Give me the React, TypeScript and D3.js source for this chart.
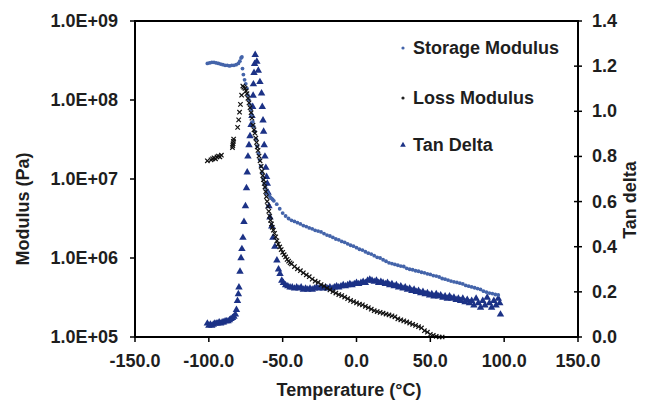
import React from "react";
import * as d3 from "d3";

// Dynamic mechanical analysis: temperature sweep
const tempTicks = [-150, -100, -50, 0, 50, 100, 150];
const modulusTicks = [1e5, 1e6, 1e7, 1e8, 1e9];
const modulusTickLabels = ["1.0E+05", "1.0E+06", "1.0E+07", "1.0E+08", "1.0E+09"];
const tanTicks = [0, 0.2, 0.4, 0.6, 0.8, 1.0, 1.2, 1.4];

// Storage modulus (Pa)
const storageTemp = [
  -101, -99.5, -98, -96.5, -95, -93.5, -92, -90.5, -89, -87.5, -86, -84.5, -83, -81.5, -80, -79, -78.2, -77.6,
  -77.2, -76.6, -75.8, -75, -74.2, -73.5, -72.8, -72.1, -71.4, -70.8, -70.2, -69.5, -68.8, -68, -67.2, -66.4,
  -65.6, -64.8, -64, -63.2, -62.4, -61.6, -60.8, -60, -59.2, -58.4, -57.6, -56.8,
  -56, -54, -52, -50, -48, -46, -44, -42, -40, -38, -36, -34, -32, -30, -28, -26, -24, -22, -20, -18, -16, -14,
  -12, -10, -8, -6, -4, -2, 0, 2, 4, 6, 8, 10, 12, 14, 16, 18, 20, 22, 24, 26, 28, 30, 32, 34, 36, 38, 40, 42,
  44, 46, 48, 50, 52, 54, 56, 58, 60, 62, 64, 66, 68, 70, 72, 74, 76, 78, 80, 82, 84, 86, 88, 90, 92, 94, 96,
];
const storage = [
  2.9e8, 2.95e8, 3.0e8, 3.0e8, 2.95e8, 2.9e8, 2.85e8, 2.8e8, 2.75e8, 2.75e8, 2.7e8, 2.75e8, 2.75e8, 2.8e8, 2.9e8,
  3.1e8, 3.4e8, 3.5e8,
  2.5e8, 2.1e8, 1.8e8, 1.6e8, 1.4e8, 1.15e8, 1.0e8, 8.8e7, 7.5e7, 6.4e7, 5.3e7, 4.6e7, 4.0e7, 3.2e7, 2.6e7, 2.1e7,
  1.75e7, 1.45e7, 1.2e7, 1.0e7, 8.8e6, 7.8e6, 7.1e6, 6.6e6, 6.2e6, 5.9e6, 5.7e6, 5.5e6,
  5.3e6, 4.8e6, 4.2e6, 3.7e6, 3.4e6, 3.16e6, 3.0e6, 2.9e6, 2.8e6, 2.7e6, 2.57e6, 2.5e6, 2.4e6, 2.34e6, 2.24e6,
  2.19e6, 2.14e6, 2.04e6, 1.95e6, 1.9e6, 1.82e6, 1.74e6, 1.7e6, 1.62e6, 1.58e6, 1.51e6, 1.45e6, 1.41e6, 1.35e6,
  1.29e6, 1.26e6, 1.2e6, 1.15e6, 1.12e6, 1.07e6, 1.02e6, 1.0e6, 9.5e5, 9.1e5, 8.7e5, 8.5e5, 8.3e5, 8.1e5, 7.9e5,
  7.8e5, 7.4e5, 7.2e5, 7.1e5, 6.9e5, 6.8e5, 6.6e5, 6.5e5, 6.3e5, 6.2e5, 6.0e5, 5.9e5, 5.75e5, 5.5e5, 5.4e5,
  5.25e5, 5.1e5, 5.0e5, 4.9e5, 4.8e5, 4.7e5, 4.5e5, 4.4e5, 4.3e5, 4.2e5, 4.1e5, 4.0e5, 3.8e5, 3.7e5, 3.6e5,
  3.55e5, 3.45e5, 3.4e5,
];

// Loss modulus (Pa)
const lossTemp = [
  -101, -98.5, -97.5, -96.5, -95.5, -94.5, -93.5, -92.5, -91.5, -84, -83.8, -83.6, -83.4, -83.2, -80.5, -79.8,
  -79.2, -78.6, -77.8, -77, -76.3, -75.5, -74.8, -74.2, -73.5, -72.8, -72.1, -71.4, -70.8, -70.1, -69.4, -68.8,
  -68.2, -67.7, -67.2, -66.7, -66, -65.3, -64.6, -64, -63.5, -63, -62.5, -62, -61.5, -61, -60.5, -60, -59.4, -58.8,
  -58.2, -57.6, -57, -56.3, -55.5, -54.7, -53.9, -53, -52, -51, -50, -49, -48, -47, -46, -45, -44,
  -42, -40, -38, -36, -34, -32, -30, -28, -26, -24, -22, -20, -18, -16, -14, -12, -10, -8, -6, -4, -2, 0, 2, 4, 6,
  8, 10, 12, 14, 16, 18, 20, 22, 24, 26, 28, 30, 32, 34, 36, 38, 40, 42, 44, 46, 48, 50, 52, 54, 56, 58,
];
const loss = [
  1.7e7, 1.75e7, 1.8e7, 1.85e7, 1.8e7, 1.9e7, 1.95e7, 1.9e7, 2.0e7, 2.5e7, 2.65e7, 2.8e7, 3.0e7, 3.2e7, 4.5e7,
  5.6e7, 7.0e7, 8.8e7, 1.15e8, 1.5e8, 1.45e8, 1.4e8, 1.3e8, 1.2e8, 1.05e8, 9.2e7, 8.0e7, 6.9e7, 5.9e7, 4.8e7, 4.2e7,
  3.8e7, 3.3e7, 2.9e7, 2.55e7, 2.3e7, 1.95e7, 1.7e7, 1.45e7, 1.25e7, 1.1e7, 9.8e6, 8.8e6, 7.9e6, 6.9e6, 6.0e6,
  5.2e6, 4.5e6, 3.9e6, 3.4e6, 3.0e6, 2.7e6, 2.45e6, 2.25e6, 2.05e6, 1.85e6, 1.65e6, 1.5e6, 1.38e6, 1.28e6,
  1.18e6, 1.1e6, 1.03e6, 9.6e5, 9.1e5, 8.7e5, 8.4e5,
  7.8e5, 7.3e5, 6.9e5, 6.5e5, 6.1e5, 5.8e5, 5.4e5, 5.1e5, 4.9e5, 4.6e5, 4.4e5, 4.15e5, 3.95e5, 3.75e5, 3.6e5,
  3.45e5, 3.35e5, 3.2e5, 3.05e5, 2.9e5, 2.8e5, 2.7e5, 2.6e5, 2.55e5, 2.45e5, 2.35e5, 2.25e5, 2.15e5, 2.1e5,
  2.05e5, 2.0e5, 1.95e5, 1.9e5, 1.85e5, 1.8e5, 1.7e5, 1.65e5, 1.6e5, 1.55e5, 1.5e5, 1.45e5, 1.4e5, 1.35e5,
  1.3e5, 1.2e5, 1.15e5, 1.08e5, 1.05e5, 1.02e5, 1.0e5, 1.0e5,
];

// Tan delta (right axis)
const tanTemp = [
  -101, -100, -99, -98, -97, -96, -95, -94, -93, -92, -91, -90, -89, -88, -87, -86, -85, -84, -83, -82, -81.3,
  -80.6, -80, -79.6, -78.9, -78.2, -77.6, -76.9, -76.2, -75.2, -74.5, -74, -73.5, -72.8, -72.1, -71.4, -70.8,
  -70.3, -70, -69.8, -69.4, -69, -68.6, -67.5, -66.5, -65.4, -64.3, -63.8, -63.3, -62.9, -62.5, -62, -61.4,
  -60.9, -60.4, -59.9, -59.3, -58.6, -57.4, -56.6, -55.3, -53.9, -52.8, -51.8, -50.6, -49.5, -48, -46.5, -45,
  -43.5, -42, -40.5, -39, -37.5, -36, -34.5, -33, -31.5, -30, -28.5, -27, -25.5, -24, -22.5, -21, -19.5, -18,
  -16.5, -15, -13.5, -12, -10.5, -9, -7.5, -6, -4.5, -3, -1.5, 0, 1.5, 3, 4.5, 6, 7.5, 9, 10.5, 12, 13.5, 15,
  16.5, 18, 19.5, 21, 22.5, 24, 25.5, 27, 28.5, 30, 31.5, 33, 34.5, 36, 37.5, 39, 40.5, 42, 43.5, 45, 46.5, 48,
  49.5, 51, 52.5, 54, 55.5, 57, 58.5, 60, 61.5, 63, 64.5, 66, 67.5, 69, 70.5, 72, 73.5, 75, 76.5, 78, 79.5, 81,
  82.5, 84, 85.5, 87, 88.5, 90, 91.5, 93, 94.5, 96, 97, 97.5,
];
const tanDelta = [
  0.06, 0.05, 0.055, 0.05, 0.055, 0.06, 0.06, 0.06, 0.065, 0.06, 0.065, 0.065, 0.07, 0.07, 0.07, 0.075, 0.08,
  0.085, 0.09, 0.1, 0.12, 0.16, 0.19, 0.22, 0.29, 0.35, 0.39, 0.44, 0.51, 0.58, 0.66, 0.73, 0.8, 0.85, 0.89,
  0.94, 0.98, 1.02, 1.07, 1.12, 1.17, 1.21, 1.25, 1.22, 1.18, 1.13, 1.08, 1.02, 0.96, 0.91, 0.85, 0.8, 0.75,
  0.71, 0.68, 0.64, 0.58, 0.53, 0.49, 0.44, 0.4, 0.34, 0.3, 0.28, 0.25, 0.24, 0.23, 0.225, 0.22,
  0.22, 0.215, 0.22, 0.215, 0.22, 0.21, 0.215, 0.21, 0.215, 0.21, 0.215, 0.22, 0.215, 0.22, 0.215, 0.22, 0.215,
  0.22, 0.215, 0.22, 0.225, 0.22, 0.225, 0.23, 0.225, 0.23, 0.235, 0.23, 0.235, 0.24, 0.235, 0.24, 0.245, 0.24,
  0.25, 0.255, 0.25, 0.245, 0.25, 0.24, 0.245, 0.24, 0.235, 0.24, 0.23, 0.235, 0.225, 0.23, 0.22, 0.225, 0.215,
  0.22, 0.21, 0.215, 0.205, 0.21, 0.2, 0.205, 0.195, 0.2, 0.19, 0.195, 0.185, 0.19, 0.18, 0.19, 0.18, 0.185,
  0.175, 0.18, 0.17, 0.18, 0.17, 0.175, 0.165, 0.17, 0.16, 0.17, 0.155, 0.165, 0.15, 0.16, 0.14, 0.17, 0.15,
  0.13, 0.16, 0.14, 0.175, 0.15, 0.13, 0.16, 0.14, 0.17, 0.15, 0.1,
];

const W = 646;
const H = 402;
const plot = { left: 135, right: 578, top: 21, bottom: 337 };
const FONT = "'Liberation Sans', Arial, sans-serif";
const STORAGE_COLOR = "#4464aa";
const TAN_COLOR = "#1c3286";
const TEXT_COLOR = "#1e1e1e";

export default function App() {
  const x = d3.scaleLinear().domain([-150, 150]).range([plot.left, plot.right]);
  const yMod = d3.scaleLog().domain([1e5, 1e9]).range([plot.bottom, plot.top]);
  const yTan = d3.scaleLinear().domain([0, 1.4]).range([plot.bottom, plot.top]);
  const tri = d3.symbol().type(d3.symbolTriangle).size(24)() as string;
  const triLegend = d3.symbol().type(d3.symbolTriangle).size(14)() as string;
  const xs = 2.2;

  const labelStyle = { fontFamily: FONT, fontWeight: 700, fontSize: 18, fill: TEXT_COLOR } as const;

  return (
    <svg width={W} height={H} style={{ position: "absolute", left: 0, top: 0, background: "#fff" }}>
      {/* tan delta */}
      <g fill={TAN_COLOR}>
        {tanTemp.map((t, i) => (
          <path key={i} d={tri} transform={`translate(${x(t)},${yTan(tanDelta[i])})`} />
        ))}
      </g>
      {/* storage modulus */}
      <g fill={STORAGE_COLOR}>
        {storageTemp.map((t, i) => (
          <circle key={i} cx={x(t)} cy={yMod(storage[i])} r={1.9} />
        ))}
      </g>
      {/* loss modulus */}
      <g stroke="#111" strokeWidth={1.2}>
        {lossTemp.map((t, i) => {
          const cx = x(t);
          const cy = yMod(loss[i]);
          return (
            <g key={i}>
              <line x1={cx - xs} y1={cy - xs} x2={cx + xs} y2={cy + xs} />
              <line x1={cx - xs} y1={cy + xs} x2={cx + xs} y2={cy - xs} />
            </g>
          );
        })}
      </g>

      {/* frame */}
      <rect
        x={plot.left}
        y={plot.top}
        width={plot.right - plot.left}
        height={plot.bottom - plot.top}
        fill="none"
        stroke="#000"
        strokeWidth={2}
      />

      {/* left axis */}
      {modulusTicks.map((v, i) => (
        <g key={i}>
          <line x1={plot.left - 5} x2={plot.left} y1={yMod(v)} y2={yMod(v)} stroke="#000" strokeWidth={1.5} />
          <text x={plot.left - 17} y={yMod(v)} textAnchor="end" dominantBaseline="central" {...labelStyle}>
            {modulusTickLabels[i]}
          </text>
        </g>
      ))}

      {/* right axis */}
      {tanTicks.map((v, i) => (
        <g key={i}>
          <line x1={plot.right - 4} x2={plot.right + 4} y1={yTan(v)} y2={yTan(v)} stroke="#000" strokeWidth={1.5} />
          <text x={plot.right + 14} y={yTan(v)} textAnchor="start" dominantBaseline="central" {...labelStyle}>
            {v.toFixed(1)}
          </text>
        </g>
      ))}

      {/* bottom axis */}
      {tempTicks.map((v, i) => (
        <g key={i}>
          <line x1={x(v)} x2={x(v)} y1={plot.bottom} y2={plot.bottom + 5} stroke="#000" strokeWidth={1.5} />
          <text x={x(v)} y={361} textAnchor="middle" dominantBaseline="central" {...labelStyle}>
            {v.toFixed(1)}
          </text>
        </g>
      ))}

      {/* axis titles */}
      <text x={349} y={390} textAnchor="middle" dominantBaseline="central" {...labelStyle}>
        Temperature (°C)
      </text>
      <text
        transform={`translate(23,209) rotate(-90)`}
        textAnchor="middle"
        dominantBaseline="central"
        {...labelStyle}
      >
        Modulus (Pa)
      </text>
      <text
        transform={`translate(630,200) rotate(-90)`}
        textAnchor="middle"
        dominantBaseline="central"
        {...labelStyle}
      >
        Tan delta
      </text>

      {/* legend */}
      <g>
        <circle cx={403} cy={48} r={1.6} fill={STORAGE_COLOR} />
        <text x={413} y={48} dominantBaseline="central" {...labelStyle}>
          Storage Modulus
        </text>
        <circle cx={403} cy={98} r={1.6} fill="#222" />
        <text x={413} y={98} dominantBaseline="central" {...labelStyle}>
          Loss Modulus
        </text>
        <path d={triLegend} transform="translate(403,145)" fill={TAN_COLOR} />
        <text x={413} y={145} dominantBaseline="central" {...labelStyle}>
          Tan Delta
        </text>
      </g>
    </svg>
  );
}
